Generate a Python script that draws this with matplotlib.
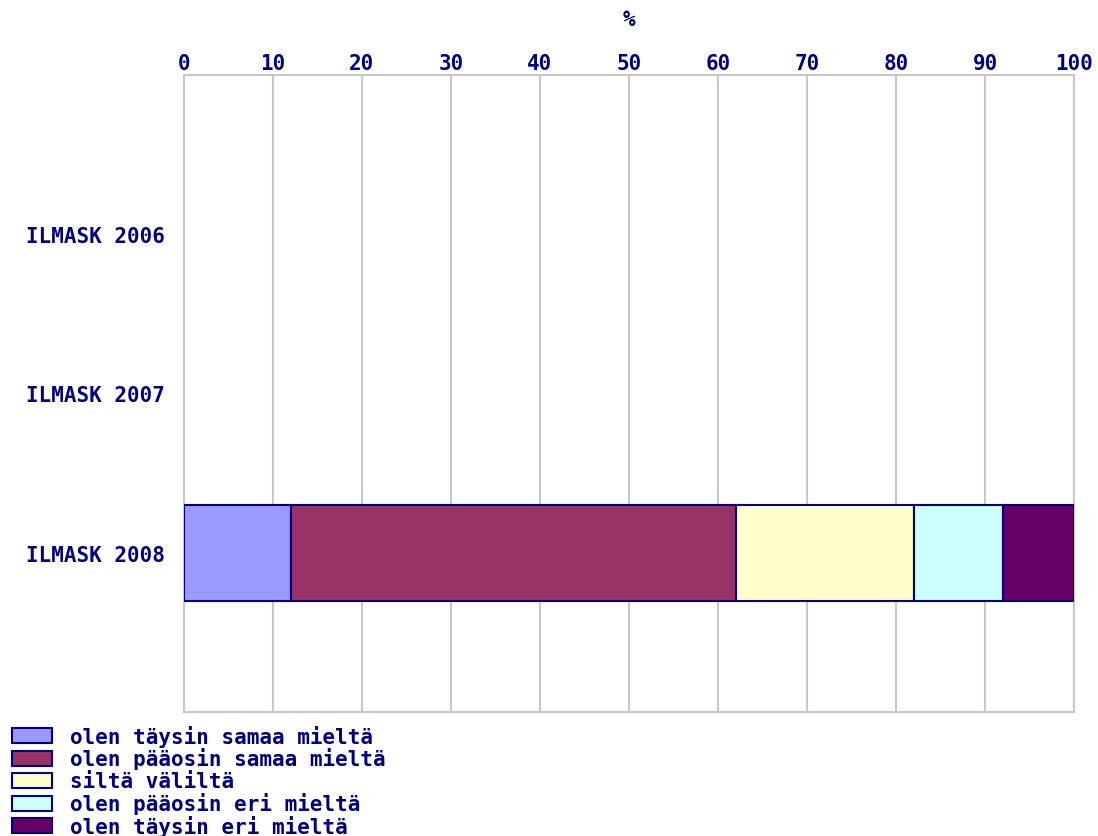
import numpy as np
import matplotlib.pyplot as plt
from matplotlib.patches import Rectangle

# survey answers per year (percent), only 2008 has data
years = ['ILMASK 2006', 'ILMASK 2007', 'ILMASK 2008']
answers = ['olen täysin samaa mieltä', 'olen pääosin samaa mieltä', 'siltä väliltä',
           'olen pääosin eri mieltä', 'olen täysin eri mieltä']
colors = ['#9999FF', '#993366', '#FFFFCC', '#CCFFFF', '#660066']
shares = {
    'ILMASK 2006': [0, 0, 0, 0, 0],
    'ILMASK 2007': [0, 0, 0, 0, 0],
    'ILMASK 2008': [12, 50, 20, 10, 8],
}
xticks = [0, 10, 20, 30, 40, 50, 60, 70, 80, 90, 100]

navy = '#000080'
font = dict(family='DejaVu Sans Mono', weight='bold', color=navy, size=15)

W, H = 1098, 837
fig = plt.figure(figsize=(W / 100, H / 100), dpi=100)
ax = fig.add_axes([184 / W, 1 - 713 / H, (1074 - 184) / W, (713 - 76) / H])

ypos = np.arange(1, len(years) + 1)
for y, yr in zip(ypos, years):
    left = 0
    for v, c in zip(shares[yr], colors):
        if v > 0:
            ax.barh(y, v, left=left, height=0.6, color=c, edgecolor=navy, linewidth=1.5, zorder=3)
        left += v

ax.set_xlim(0, 100)
ax.set_ylim(len(years) + 1, 0)
ax.set_xticks(xticks)
ax.set_xticklabels([str(t) for t in xticks], **font)
ax.set_yticks(ypos)
ax.set_yticklabels(years, **font)
ax.xaxis.tick_top()
ax.xaxis.set_label_position('top')
ax.set_xlabel('%', labelpad=20, **font)
ax.tick_params(axis='both', length=0)
ax.tick_params(axis='x', pad=1.5)
ax.tick_params(axis='y', pad=14)
ax.grid(axis='x', color='#C8C8C8', linewidth=1.5, zorder=0)
for s in ax.spines.values():
    s.set_color('#C8C8C8')
    s.set_linewidth(1.5)

# legend drawn as swatches + labels under the plot
for i, (lab, c) in enumerate(zip(answers, colors)):
    yc = 737 + 22.5 * i
    fig.patches.append(Rectangle((12 / W, 1 - (yc + 7) / H), 40 / W, 15 / H,
                                 transform=fig.transFigure, facecolor=c,
                                 edgecolor=navy, linewidth=1.5))
    fig.text(70 / W, 1 - yc / H, lab, va='center', ha='left', **font)

fig.savefig('out.png', dpi=100)
